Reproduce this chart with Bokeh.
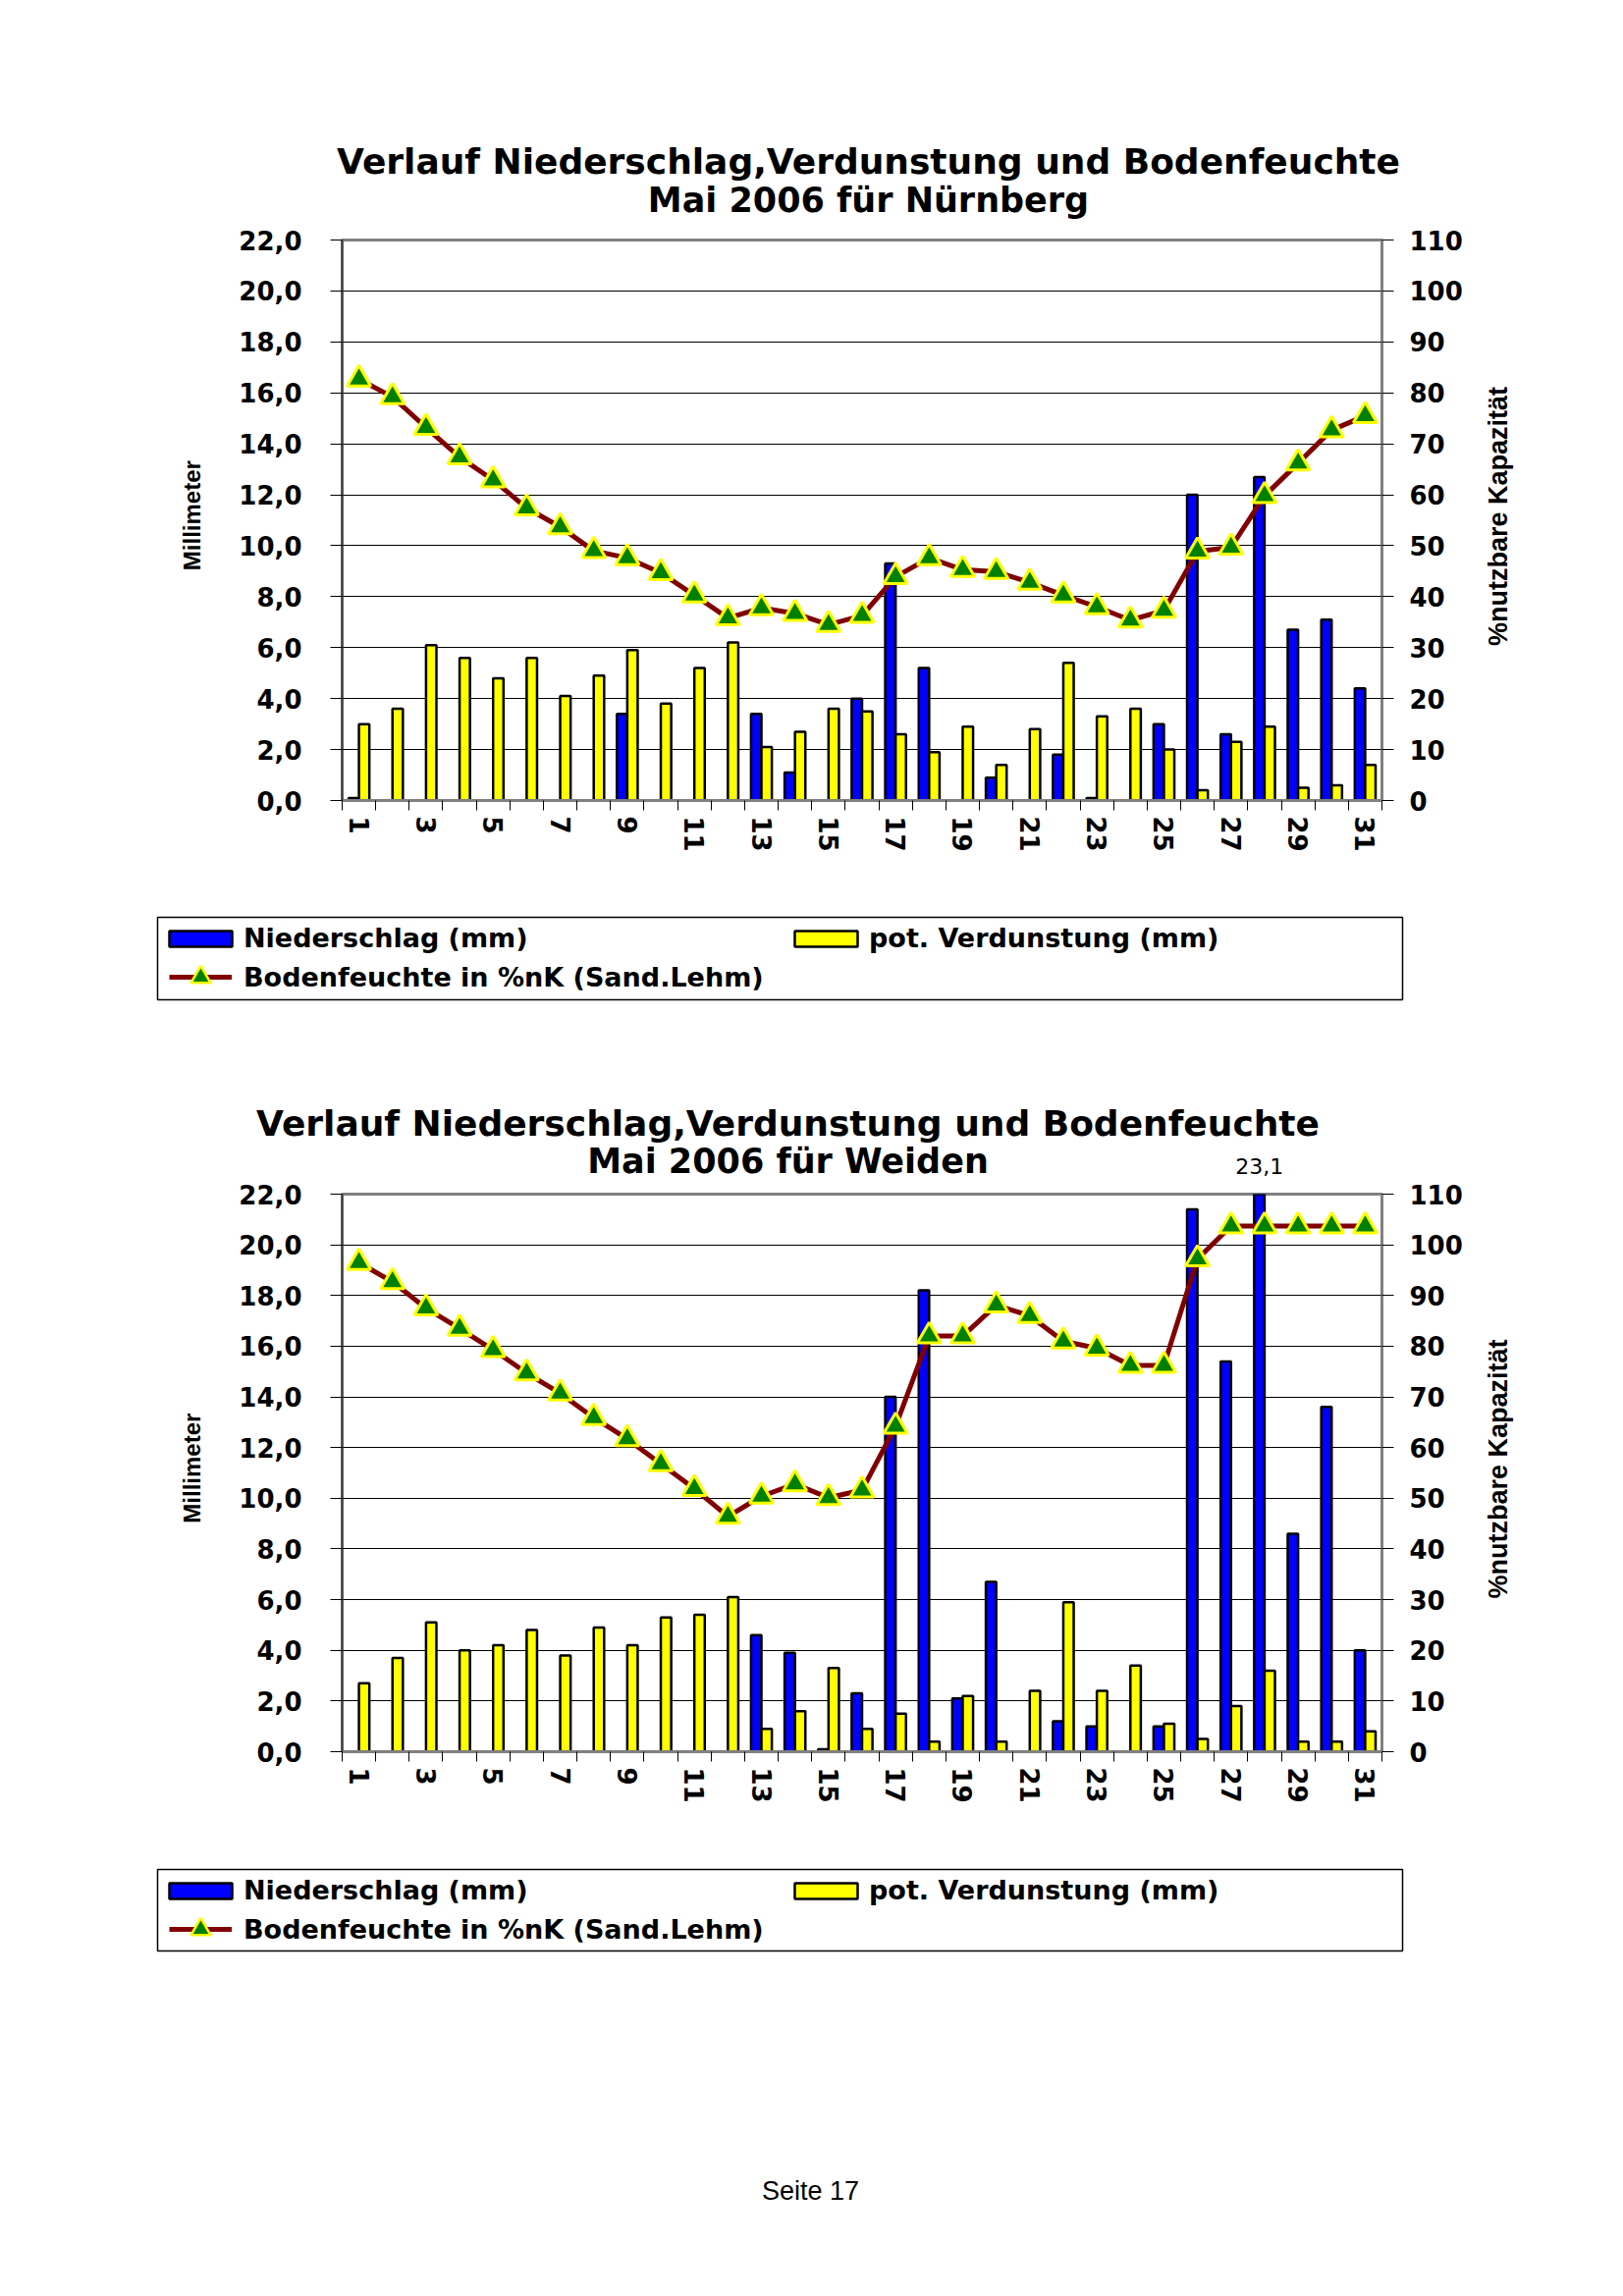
import math
from bokeh.plotting import figure
from bokeh.models import (Range1d, LinearAxis, FixedTicker, CustomJSTickFormatter,
                          Label, Legend, LegendItem, ColumnDataSource)
from bokeh.layouts import column, row
from bokeh.embed import file_html
from bokeh.resources import INLINE

# ---------------- data ----------------
days = list(range(1, 32))
x_tick_days = list(range(1, 32, 2))
mm_ticks = list(range(0, 23, 2))
pct_ticks = list(range(0, 111, 10))

nbg_title = ["Verlauf Niederschlag,Verdunstung und Bodenfeuchte", "Mai 2006 für Nürnberg"]
nbg_niederschlag = [0.1, 0, 0, 0, 0, 0, 0, 0, 3.4, 0, 0, 0, 3.4, 1.1, 0, 4.0,
                    9.3, 5.2, 0, 0.9, 0, 1.8, 0.1, 0, 3.0, 12.0, 2.6, 12.7, 6.7, 7.1, 4.4]
nbg_verdunstung = [3.0, 3.6, 6.1, 5.6, 4.8, 5.6, 4.1, 4.9, 5.9, 3.8, 5.2, 6.2, 2.1, 2.7, 3.6, 3.5,
                   2.6, 1.9, 2.9, 1.4, 2.8, 5.4, 3.3, 3.6, 2.0, 0.4, 2.3, 2.9, 0.5, 0.6, 1.4]
nbg_boden = [82.7, 79.2, 73.2, 67.4, 62.9, 57.4, 53.7, 49.0, 47.6, 44.7, 40.3, 35.8, 37.8, 36.7, 34.5, 36.3,
             43.9, 47.6, 45.3, 44.9, 42.8, 40.3, 38.0, 35.4, 37.3, 48.9, 49.7, 59.8, 66.2, 72.7, 75.5]

wei_title = ["Verlauf Niederschlag,Verdunstung und Bodenfeuchte", "Mai 2006 für Weiden"]
wei_niederschlag = [0, 0, 0, 0, 0, 0, 0, 0, 0, 0, 0, 0, 4.6, 3.9, 0.1, 2.3,
                    14.0, 18.2, 2.1, 6.7, 0, 1.2, 1.0, 0, 1.0, 21.4, 15.4, 23.1, 8.6, 13.6, 4.0]
wei_verdunstung = [2.7, 3.7, 5.1, 4.0, 4.2, 4.8, 3.8, 4.9, 4.2, 5.3, 5.4, 6.1, 0.9, 1.6, 3.3, 0.9,
                   1.5, 0.4, 2.2, 0.4, 2.4, 5.9, 2.4, 3.4, 1.1, 0.5, 1.8, 3.2, 0.4, 0.4, 0.8]
wei_boden = [96.5, 92.7, 87.5, 83.5, 79.3, 74.7, 70.7, 65.9, 61.7, 56.8, 51.9, 46.4, 50.4, 52.8, 50.1, 51.6,
             64.2, 82.0, 82.0, 88.1, 86.0, 81.0, 79.6, 76.2, 76.2, 97.2, 103.7, 103.7, 103.7, 103.7, 103.7]

legend_labels = ["Niederschlag (mm)", "pot. Verdunstung (mm)", "Bodenfeuchte in %nK (Sand.Lehm)"]
y_left_title = "Millimeter"
y_right_title = "%nutzbare Kapazität"
footer_text = "Seite 17"

# ---------------- layout constants (pixels) ----------------
TOTAL_W = 1645
LEFT_W, MAIN_W, RIGHT_W = 228, 1277, 140
FRAME_L = 348
FRAME_W = 1059
MB_LEFT = FRAME_L - LEFT_W
MB_RIGHT = MAIN_W - MB_LEFT - FRAME_W
MB_TOP, MB_BOTTOM = 15, 60
MM_MAX, PCT_MAX = 22, 110
BAR_W, BAR_OFF = 0.31, 0.155
BOLD_FONT = "DejaVu Sans"
MARKER_SIZE = 24

COL_BLUE, COL_YELLOW = "#0000FF", "#FFFF00"
COL_LINE, COL_MARK = "#800000", "#008000"


def day_to_page_x(d):
    return FRAME_L + (d - 0.5) / 31 * FRAME_W


def strip(w, h):
    s = figure(width=w, height=h, x_range=Range1d(0, w), y_range=Range1d(h, 0),
               x_axis_type=None, y_axis_type=None, title=None,
               output_backend="svg", toolbar_location=None, min_border=0)
    s.outline_line_color = None
    s.background_fill_color = "white"
    s.border_fill_color = "white"
    return s


def add_text(fig, x, y, text, size, bold=False, font=BOLD_FONT, angle=0.0):
    fig.add_layout(Label(x=x, y=y, text=text, angle=angle, text_align="center",
                         text_baseline="middle", text_font=font,
                         text_font_style="bold" if bold else "normal",
                         text_font_size=size, text_color="black"))


def main_chart(frame_h, nied, verd, boden):
    h = MB_TOP + frame_h + MB_BOTTOM
    p = figure(width=MAIN_W, height=h, x_range=Range1d(0.5, 31.5), y_range=Range1d(0, MM_MAX),
               title=None, output_backend="svg", toolbar_location=None,
               min_border_left=MB_LEFT, min_border_right=MB_RIGHT,
               min_border_top=MB_TOP, min_border_bottom=MB_BOTTOM)
    p.extra_y_ranges = {"pct": Range1d(0, PCT_MAX)}
    p.background_fill_color = "white"
    p.border_fill_color = "white"
    p.outline_line_color = "#808080"
    p.outline_line_width = 3

    p.xgrid.visible = False
    p.ygrid.ticker = FixedTicker(ticks=mm_ticks)
    p.ygrid.grid_line_color = "black"
    p.ygrid.grid_line_width = 1

    ya = p.yaxis[0]
    ya.ticker = FixedTicker(ticks=mm_ticks)
    ya.formatter = CustomJSTickFormatter(code="return tick.toFixed(1).replace('.', ',');")
    ya.axis_line_color = "#404040"
    ya.axis_line_width = 2
    ya.major_tick_in = 0
    ya.major_tick_out = 12
    ya.major_tick_line_color = "black"
    ya.minor_tick_line_color = None
    ya.major_label_standoff = 29
    ya.major_label_text_font = BOLD_FONT
    ya.major_label_text_font_style = "bold"
    ya.major_label_text_font_size = "26px"
    ya.major_label_text_color = "black"

    ra = LinearAxis(y_range_name="pct", ticker=FixedTicker(ticks=pct_ticks))
    ra.axis_line_color = "#808080"
    ra.axis_line_width = 2
    ra.major_tick_in = 0
    ra.major_tick_out = 12
    ra.major_tick_line_color = "black"
    ra.minor_tick_line_color = None
    ra.major_label_standoff = 16
    ra.major_label_text_font = BOLD_FONT
    ra.major_label_text_font_style = "bold"
    ra.major_label_text_font_size = "26px"
    ra.major_label_text_color = "black"
    p.add_layout(ra, "right")

    xa = p.xaxis[0]
    xa.ticker = FixedTicker(ticks=x_tick_days, minor_ticks=[d - 0.5 for d in days] + [31.5])
    xa.axis_line_color = "#808080"
    xa.axis_line_width = 3
    xa.major_tick_line_color = None
    xa.major_tick_in = 0
    xa.major_tick_out = 10
    xa.minor_tick_in = 0
    xa.minor_tick_out = 10
    xa.minor_tick_line_color = "black"
    xa.major_label_standoff = 6
    xa.major_label_orientation = -math.pi / 2
    xa.major_label_text_font = BOLD_FONT
    xa.major_label_text_font_style = "bold"
    xa.major_label_text_font_size = "26px"
    xa.major_label_text_color = "black"

    nb = [(d, v) for d, v in zip(days, nied) if v > 0]
    vb = [(d, v) for d, v in zip(days, verd) if v > 0]
    src_n = ColumnDataSource(dict(x=[d - BAR_OFF for d, _ in nb], top=[v for _, v in nb]))
    src_v = ColumnDataSource(dict(x=[d + BAR_OFF for d, _ in vb], top=[v for _, v in vb]))
    p.vbar(x="x", top="top", bottom=0, width=BAR_W, source=src_n,
           fill_color=COL_BLUE, line_color="black", line_width=2.5)
    p.vbar(x="x", top="top", bottom=0, width=BAR_W, source=src_v,
           fill_color=COL_YELLOW, line_color="black", line_width=2.5)

    src_b = ColumnDataSource(dict(x=days, y=boden))
    p.line(x="x", y="y", source=src_b, y_range_name="pct", line_color=COL_LINE, line_width=5)
    p.scatter(x="x", y="y", source=src_b, y_range_name="pct", marker="triangle", size=MARKER_SIZE,
              fill_color=COL_MARK, line_color=COL_YELLOW, line_width=3)
    return p, h


def legend_strip(h, b_top, box):
    # box = (left, right, top, bottom) in page pixels
    s = strip(TOTAL_W, h)
    left, right, top, bottom = box
    s.quad(left=[left], right=[right], top=[top - b_top], bottom=[bottom - b_top],
           fill_color="white", line_color="black", line_width=1.5)
    nan = float("nan")
    rb = s.vbar(x="x", top="top", width=1, source=ColumnDataSource(dict(x=[nan], top=[nan])),
                fill_color=COL_BLUE, line_color="black", line_width=2.5)
    ry = s.vbar(x="x", top="top", width=1, source=ColumnDataSource(dict(x=[nan], top=[nan])),
                fill_color=COL_YELLOW, line_color="black", line_width=2.5)
    el = ColumnDataSource(dict(x=[nan], y=[nan]))
    rl = s.line(x="x", y="y", source=el, line_color=COL_LINE, line_width=5)
    rs = s.scatter(x="x", y="y", source=el, marker="triangle", size=MARKER_SIZE,
                   fill_color=COL_MARK, line_color=COL_YELLOW, line_width=2.5)

    common = dict(padding=0, margin=0, label_text_font=BOLD_FONT, label_text_font_style="bold",
                  label_text_font_size="27px", label_text_color="black",
                  border_line_color=None, background_fill_alpha=0.0)
    row1_c = top + 21
    row2_c = top + 61
    gh_b = 50
    leg_a = Legend(items=[LegendItem(label=legend_labels[0], renderers=[rb]),
                          LegendItem(label=legend_labels[1], renderers=[ry])],
                   orientation="horizontal", glyph_width=80, glyph_height=20,
                   label_standoff=4, label_width=545, spacing=8,
                   location=(left + 4, h - (row1_c + 16 - b_top)), **common)
    leg_b = Legend(items=[LegendItem(label=legend_labels[2], renderers=[rl, rs])],
                   orientation="horizontal", glyph_width=64, glyph_height=gh_b,
                   label_standoff=12, label_width=545, spacing=8,
                   location=(left + 12, h - (row2_c + gh_b / 2 - b_top)), **common)
    s.add_layout(leg_a)
    s.add_layout(leg_b)
    return s


def chart_block(page_top, title_h, frame_h, bottom_h, titles, title_cx, title_ys,
                nied, verd, boden, legend_box, footer=None):
    t = strip(TOTAL_W, title_h)
    add_text(t, title_cx, title_ys[0] - page_top, titles[0], "36px", bold=True)
    add_text(t, title_cx, title_ys[1] - page_top, titles[1], "35px", bold=True)
    for d, v in zip(days, nied):
        if v > MM_MAX:
            frame_top = page_top + title_h + MB_TOP
            y_page = frame_top - (v - MM_MAX) / MM_MAX * frame_h
            add_text(t, day_to_page_x(d - BAR_OFF), y_page - page_top,
                     ("%.1f" % v).replace(".", ","), "22px", font="DejaVu Sans")

    p, main_h = main_chart(frame_h, nied, verd, boden)
    ls = strip(LEFT_W, main_h)
    rs = strip(RIGHT_W, main_h)
    mid = MB_TOP + frame_h / 2.0 + 17
    add_text(ls, 195, mid, y_left_title, "24px", bold=True, font="Liberation Sans", angle=math.pi / 2)
    add_text(rs, 1525 - LEFT_W - MAIN_W, mid + 1, y_right_title, "27px", bold=True,
             font="Liberation Sans", angle=math.pi / 2)

    b_top = page_top + title_h + main_h
    b = legend_strip(bottom_h, b_top, legend_box)
    if footer is not None:
        add_text(b, 825, footer[1] - b_top, footer[0], "27px", font="Liberation Sans")
    blk = column(t, row(ls, p, rs, spacing=0), b, spacing=0)
    return blk, b_top + bottom_h


block1, end1 = chart_block(0, 229, 571, 225, nbg_title, 884, (164, 203),
                           nbg_niederschlag, nbg_verdunstung, nbg_boden, (160, 1428, 934, 1018))
block2, end2 = chart_block(end1, 1201 - end1, 568, 2330 - (1201 + MB_TOP + 568 + MB_BOTTOM),
                           wei_title, 802, (1144, 1182),
                           wei_niederschlag, wei_verdunstung, wei_boden, (160, 1428, 1904, 1987),
                           footer=(footer_text, 2231))

layout = column(block1, block2, spacing=0)
open("out.html", "w").write(file_html(layout, INLINE))
